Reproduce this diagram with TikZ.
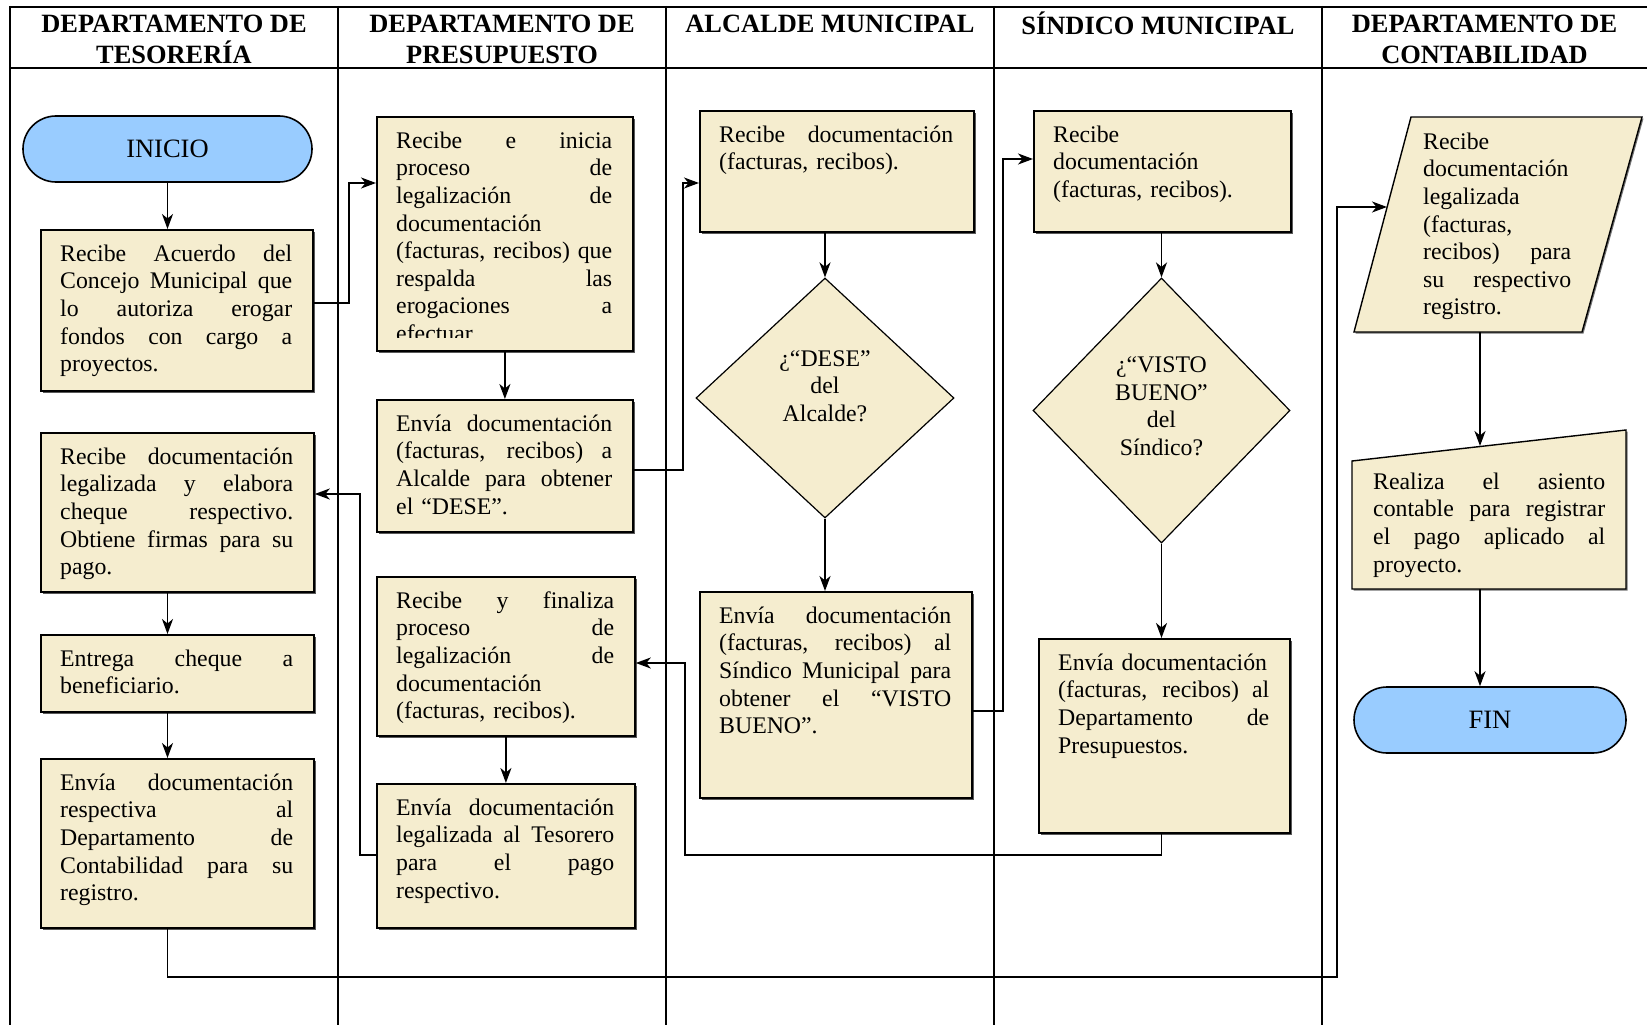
\documentclass[tikz,border=0pt]{standalone}
\usepackage{fontspec}
\setmainfont{Liberation Serif}
\usetikzlibrary{arrows.meta,shapes.misc,shapes.geometric,shadows,calc}
\setlength\parindent{0pt}

\definecolor{paper}{RGB}{245,237,207}
\definecolor{termblue}{RGB}{153,204,255}

% one justified line: spaces stretched to the current text width
\newlength\linew
\newcommand\J[1]{{\spaceskip=0pt\xspaceskip=0pt\makebox[\linew][s]{#1}}}
\newcommand\bodyfont{\fontsize{23.8}{27.6}\selectfont}

\tikzset{
  laneline/.style={line width=1.5pt},
  headrule/.style={line width=2.5pt},
  headtext/.style={font=\fontsize{26.4}{31.6}\selectfont\bfseries, align=center, inner sep=0pt, anchor=north},
  procbox/.style={draw, line width=1.8pt, fill=paper, anchor=north west, inner sep=0pt,
    drop shadow={shadow xshift=2pt, shadow yshift=-2pt, fill=black!65, opacity=1}},
  proctext/.style={anchor=north west, inner sep=0pt, align=left, font=\bodyfont},
  decision/.style={diamond, draw, line width=1.2pt, fill=paper, inner sep=0pt},
  dectext/.style={anchor=north, inner sep=0pt, align=center, font=\bodyfont},
  terminal/.style={rounded rectangle, draw, line width=1.6pt, fill=termblue, inner sep=0pt,
    minimum height=66pt, font=\fontsize{26.5}{30}\selectfont},
  slanted/.style={draw, line width=1.4pt, fill=paper,
    drop shadow={shadow xshift=1.5pt, shadow yshift=-1.5pt, fill=black!55, opacity=1}},
  flow/.style={line width=1.9pt, -{Stealth[length=15pt,width=11pt,inset=4.5pt]}},
}

% box only: name, x, y (top left), width, height
\newcommand\procframe[5]{%
  \node[procbox, minimum width=#4pt, minimum height=#5pt] (#1) at (#2,#3) {};
}
% text of a box: name, x, y (top left of box), width of box, text
\newcommand\proclines[5]{%
  \pgfmathsetmacro\procwidth{#4-40}%
  \setlength\linew{\procwidth pt}%
  \node[proctext, text width=\procwidth pt] (#1-txt) at (#2+20,#3+14) {\rule{0pt}{18pt}#5};
}
% box with its text
\newcommand\procnode[6]{%
  \procframe{#1}{#2}{#3}{#4}{#5}%
  \proclines{#1}{#2}{#3}{#4}{#6}%
}

\begin{document}
\begin{tikzpicture}[x=1pt,y=-1pt]
\useasboundingbox (0,0) rectangle (1647,1025);

% ---- swimlane frame ----
\draw[headrule] (10,7) -- (1647,7);
\draw[headrule] (10,68) -- (1647,68);
\foreach \lx in {10,338,666,994,1322}
  \draw[laneline] (\lx,6) -- (\lx,1025);

\node[headtext] (h1) at (174,12)    {\rule{0pt}{20pt}DEPARTAMENTO DE\\TESORERÍA};
\node[headtext] (h2) at (502,12)    {\rule{0pt}{20pt}DEPARTAMENTO DE\\PRESUPUESTO};
\node[headtext] (h3) at (830,12)    {\rule{0pt}{20pt}ALCALDE MUNICIPAL};
\node[headtext] (h4) at (1158,12)   {\rule{0pt}{20pt}SÍNDICO MUNICIPAL};
\node[headtext] (h5) at (1484.5,12) {\rule{0pt}{20pt}DEPARTAMENTO DE\\CONTABILIDAD};

% ---- Tesorería ----
\node[terminal, minimum width=289pt] (ini) at (167.5,149) {INICIO};

\procnode{t1}{40}{229}{272}{161}{%
  \J{Recibe Acuerdo del}\\\J{Concejo Municipal que}\\\J{lo autoriza erogar}\\%
  \J{fondos con cargo a}\\proyectos.}
\procnode{t2}{40}{432}{273}{159}{%
  \J{Recibe documentación}\\\J{legalizada y elabora}\\\J{cheque respectivo.}\\%
  \J{Obtiene firmas para su}\\pago.}
\procnode{t3}{40}{634}{273}{77}{%
  \J{Entrega cheque a}\\beneficiario.}
\procnode{t4}{40}{758}{273}{169}{%
  \J{Envía documentación}\\\J{respectiva al}\\\J{Departamento de}\\%
  \J{Contabilidad para su}\\registro.}

% ---- Presupuesto ----
\procframe{p1}{376}{116}{256}{234}
\begin{scope}
  \clip (376,116) rectangle (632,337);
  \proclines{p1}{376}{116}{256}{%
    \J{Recibe e inicia}\\\J{proceso de}\\\J{legalización de}\\documentación\\%
    \J{(facturas, recibos) que}\\\J{respalda las}\\\J{erogaciones a}\\efectuar.}
\end{scope}
\procnode{p2}{376}{399}{256}{132}{%
  \J{Envía documentación}\\\J{(facturas, recibos) a}\\\J{Alcalde para obtener}\\el “DESE”.}
\procnode{p3}{376}{576}{258}{159}{%
  \J{Recibe y finaliza}\\\J{proceso de}\\\J{legalización de}\\documentación\\(facturas, recibos).}
\procnode{p4}{376}{783}{258}{144}{%
  \J{Envía documentación}\\\J{legalizada al Tesorero}\\\J{para el pago}\\respectivo.}

% ---- Alcalde ----
\procnode{a1}{699}{110}{274}{121}{%
  \J{Recibe documentación}\\(facturas, recibos).}
\node[decision, minimum width=258pt, minimum height=240pt] (d1) at (825,398) {};
\node[dectext] (d1-txt) at (825,348) {\rule{0pt}{18pt}¿“DESE”\\del\\Alcalde?};
\procnode{a2}{699}{591}{272}{206}{%
  \J{Envía documentación}\\\J{(facturas, recibos) al}\\\J{Síndico Municipal para}\\%
  \J{obtener el “VISTO}\\BUENO”.}

% ---- Síndico ----
\procnode{s1}{1033}{110}{257}{121}{%
  Recibe\\documentación\\(facturas, recibos).}
\node[decision, minimum width=257pt, minimum height=265pt] (d2) at (1161.5,410.5) {};
\node[dectext] (d2-txt) at (1161.5,354.5) {\rule{0pt}{18pt}¿“VISTO\\BUENO”\\del\\Síndico?};
\procnode{s2}{1038}{638}{251}{194}{%
  Envía documentación\\\J{(facturas, recibos) al}\\\J{Departamento de}\\Presupuestos.}

% ---- Contabilidad ----
\path[slanted] (1411,117) -- (1642,117) -- (1582,332) -- (1354,332) -- cycle;
\coordinate (c1-in) at (1387,207);
\coordinate (c1-out) at (1480,332);
\setlength\linew{148pt}
\node[proctext, text width=148pt] (c1-txt) at (1423,131) {\rule{0pt}{18pt}%
  Recibe\\documentación\\legalizada\\(facturas,\\\J{recibos) para}\\\J{su respectivo}\\registro.};

\path[slanted] (1352,461) -- (1626,430) -- (1626,589) -- (1352,589) -- cycle;
\coordinate (c2-in) at (1480,446);
\coordinate (c2-out) at (1480,589);
\setlength\linew{232pt}
\node[proctext, text width=232pt] (c2-txt) at (1373,471) {\rule{0pt}{18pt}%
  \J{Realiza el asiento}\\\J{contable para registrar}\\\J{el pago aplicado al}\\proyecto.};

\node[terminal, minimum width=272pt] (fin) at (1490,720) {FIN};

% ---- connectors ----
\draw[flow] (ini.south) -- (ini.south |- t1.north);
\draw[flow] ($(t1.north east)+(0,74)$) -- ++(35,0) |- ($(p1.north west)+(0,67)$);
\draw[flow] (p1.south) -- (p2.north);
\draw[flow] ($(p2.north east)+(0,71)$) -- ++(49,0) |- ($(a1.north west)+(0,73)$);
\draw[flow] (a1.south -| d1.north) -- (d1.north);
\draw[flow] (d1.south) -- (a2.north -| d1.south);
\draw[flow] ($(a2.north east)+(0,120)$) -- ++(30,0) |- ($(s1.north west)+(0,49)$);
\draw[flow] (s1.south -| d2.north) -- (d2.north);
\draw[flow] (d2.south) -- (s2.north -| d2.south);
\draw[flow] (s2.south -| d2.south) |- ($(p3.north east)+(49,279)$) |- ($(p3.north east)+(0,87)$);
\draw[flow] (p3.south) -- (p4.north);
\draw[flow] ($(p4.north west)+(0,72)$) -- ++(-16,0) |- ($(t2.north east)+(0,62)$);
\draw[flow] (t2.south -| ini.south) -- (t3.north -| ini.south);
\draw[flow] (t3.south -| ini.south) -- (t4.north -| ini.south);
\draw[flow] (t4.south -| ini.south) -- ++(0,48) -| ($(c1-in)+(-50,0)$) -- (c1-in);
\draw[flow] (c1-out) -- (c2-in);
\draw[flow] (c2-out) -- (fin.north -| c2-out);
\end{tikzpicture}
\end{document}
